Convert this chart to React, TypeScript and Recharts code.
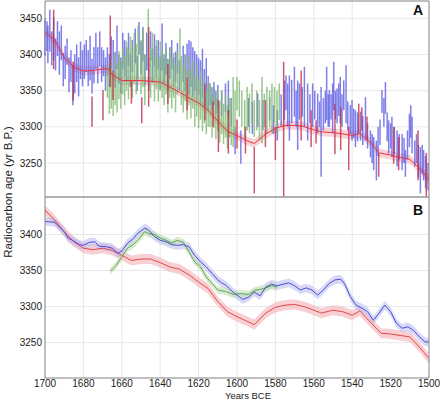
import {
  Area,
  CartesianGrid,
  ComposedChart,
  ErrorBar,
  Line,
  ReferenceLine,
  Scatter,
  XAxis,
  YAxis,
} from "recharts";

const yearTicks = [1700, 1680, 1660, 1640, 1620, 1600, 1580, 1560, 1540, 1520, 1500];
const ageTicks = [3250, 3300, 3350, 3400, 3450];

// [year BCE, low, high] of each measurement bar in panel A
const blueBars: [number, number, number][] = [
  [1700, 3398, 3450], [1699, 3405, 3446], [1698.5, 3388, 3440], [1697.5, 3404, 3462],
  [1696.5, 3385, 3432], [1695.5, 3392, 3452], [1694.5, 3378, 3422], [1693.5, 3398, 3446],
  [1692.5, 3372, 3432], [1691.5, 3392, 3440], [1690.5, 3356, 3402], [1689.5, 3366, 3412],
  [1688.5, 3386, 3422], [1687.5, 3348, 3396], [1686.5, 3362, 3406], [1685.5, 3330, 3386],
  [1684.5, 3346, 3400], [1683.5, 3362, 3414], [1682.5, 3342, 3396], [1681.5, 3366, 3418],
  [1680.5, 3356, 3406], [1679.5, 3366, 3414], [1678.5, 3376, 3420], [1677.5, 3356, 3406],
  [1676.5, 3364, 3426], [1675.5, 3346, 3394], [1674.5, 3360, 3410], [1673.5, 3380, 3430],
  [1672.5, 3360, 3410], [1671.5, 3384, 3432], [1670.5, 3362, 3410], [1669.5, 3370, 3406],
  [1668.5, 3350, 3396], [1667.5, 3370, 3410], [1666.5, 3356, 3400], [1665.5, 3380, 3425],
  [1664.5, 3376, 3420], [1663.5, 3354, 3404], [1662.5, 3380, 3440], [1661.5, 3360, 3400],
  [1660.5, 3346, 3396], [1659.5, 3380, 3430], [1658.5, 3370, 3420], [1657.5, 3362, 3410],
  [1656.5, 3384, 3430], [1655.5, 3355, 3400], [1654.5, 3376, 3420], [1653, 3388, 3436],
  [1652, 3350, 3398], [1651, 3400, 3445], [1650, 3372, 3418], [1649, 3390, 3438],
  [1648, 3356, 3400], [1647, 3378, 3430], [1646, 3350, 3395], [1645, 3392, 3432],
  [1644, 3362, 3408], [1643, 3384, 3428], [1642, 3368, 3412], [1641, 3380, 3420],
  [1640, 3352, 3398], [1639, 3378, 3443], [1638, 3360, 3400], [1637, 3372, 3416],
  [1636, 3350, 3394], [1635, 3366, 3410], [1634, 3380, 3420], [1633, 3356, 3396],
  [1632, 3362, 3404], [1631, 3374, 3416], [1630, 3350, 3392], [1628, 3362, 3412],
  [1627, 3350, 3400], [1626, 3370, 3415], [1625, 3345, 3420], [1624, 3355, 3418],
  [1623, 3342, 3410], [1622, 3350, 3405], [1621, 3338, 3400], [1620, 3345, 3395],
  [1619, 3330, 3392], [1618, 3340, 3408], [1617, 3325, 3380], [1616, 3330, 3395],
  [1615, 3322, 3370], [1614, 3330, 3360], [1613, 3322, 3355], [1612, 3330, 3362],
  [1611, 3318, 3350], [1610, 3325, 3358], [1608, 3315, 3350], [1606, 3320, 3360],
  [1604.5, 3314, 3364], [1603, 3300, 3340], [1601, 3262, 3300], [1598, 3249, 3295],
  [1594, 3300, 3340], [1592, 3290, 3335], [1589.2, 3300, 3346], [1586.5, 3295, 3337],
  [1583, 3309, 3341], [1581, 3290, 3330], [1579, 3281, 3323], [1577, 3300, 3345],
  [1575.3, 3309, 3364], [1574.5, 3323, 3371], [1573.6, 3300, 3360], [1572.7, 3281, 3371],
  [1571.5, 3305, 3365], [1570.1, 3314, 3383], [1569.2, 3300, 3350], [1568.4, 3268, 3364],
  [1567.5, 3310, 3360], [1566, 3314, 3355], [1564.9, 3300, 3383], [1563.2, 3281, 3360],
  [1562, 3305, 3345], [1560.6, 3300, 3360], [1559.5, 3310, 3350], [1558, 3291, 3346],
  [1557, 3300, 3335], [1556.2, 3231, 3355], [1555, 3295, 3340], [1554, 3305, 3350],
  [1553.3, 3309, 3383], [1552.5, 3300, 3345], [1551.9, 3300, 3351], [1551, 3310, 3345],
  [1550.2, 3291, 3360], [1549.6, 3323, 3390], [1548.7, 3310, 3350], [1547.9, 3305, 3353],
  [1547, 3315, 3360], [1546.2, 3305, 3369], [1545.3, 3300, 3345], [1544.4, 3323, 3364],
  [1543.2, 3305, 3385], [1542.3, 3295, 3335], [1541, 3290, 3330], [1540.1, 3281, 3337],
  [1539.2, 3285, 3325], [1538.3, 3272, 3323], [1537.2, 3280, 3320], [1535.7, 3281, 3321],
  [1534.5, 3275, 3315], [1533.1, 3281, 3341], [1532, 3270, 3305], [1530.5, 3258, 3295],
  [1529.6, 3250, 3290], [1528.8, 3240, 3286], [1527.4, 3226, 3281], [1526.5, 3260, 3300],
  [1525.5, 3275, 3310], [1524.5, 3319, 3351], [1523.5, 3300, 3340], [1522.7, 3318, 3362],
  [1521.8, 3280, 3320], [1521, 3263, 3309], [1520, 3270, 3305], [1519.3, 3258, 3314],
  [1518, 3262, 3300], [1516.6, 3245, 3295], [1515.5, 3255, 3290], [1514, 3240, 3290],
  [1513, 3250, 3285], [1512.3, 3231, 3268], [1511.2, 3255, 3295], [1510.2, 3272, 3318],
  [1509.5, 3285, 3330], [1508.8, 3263, 3314], [1507.4, 3245, 3281], [1506.5, 3250, 3290],
  [1505.5, 3230, 3275], [1504.5, 3208, 3272], [1503.5, 3235, 3275], [1502.8, 3226, 3268],
  [1501.8, 3215, 3260], [1500.5, 3212, 3250],
];

const greenBars: [number, number, number][] = [
  [1667.5, 3340, 3385], [1666.5, 3318, 3380], [1665.5, 3325, 3392], [1664.5, 3315, 3375],
  [1663.5, 3330, 3400], [1662.5, 3320, 3388], [1661.5, 3338, 3405], [1660.5, 3325, 3392],
  [1659.5, 3345, 3410], [1658.5, 3330, 3398], [1657.5, 3350, 3418], [1656.5, 3338, 3408],
  [1655.5, 3355, 3425], [1654.5, 3340, 3412], [1653.5, 3360, 3430], [1652.5, 3345, 3415],
  [1651.5, 3365, 3440], [1650, 3345, 3420], [1649, 3355, 3435], [1648, 3330, 3400],
  [1646.2, 3383, 3463], [1645, 3340, 3410], [1644, 3360, 3430], [1643, 3335, 3400],
  [1642, 3352, 3420], [1641, 3335, 3395], [1640, 3350, 3418], [1639, 3340, 3405],
  [1638, 3330, 3395], [1637, 3345, 3410], [1636, 3320, 3392], [1635, 3340, 3410],
  [1634, 3325, 3395], [1633, 3340, 3402], [1632, 3320, 3386], [1631, 3345, 3405],
  [1629.7, 3355, 3436], [1629, 3330, 3398], [1628, 3320, 3385], [1627, 3335, 3400],
  [1626, 3310, 3378], [1625, 3330, 3398], [1624, 3312, 3380], [1623, 3325, 3392],
  [1622, 3300, 3370], [1621, 3314, 3385], [1620, 3298, 3365], [1619, 3310, 3378],
  [1618, 3294, 3360], [1617, 3305, 3372], [1616, 3290, 3350], [1615, 3300, 3360],
  [1614, 3300, 3360], [1613, 3285, 3345], [1612, 3298, 3355], [1611, 3283, 3340],
  [1610, 3294, 3352], [1609, 3278, 3336], [1608, 3290, 3350], [1607, 3276, 3332],
  [1606, 3285, 3345], [1605, 3270, 3330], [1604, 3285, 3340], [1603, 3275, 3340],
  [1602, 3272, 3369], [1601, 3290, 3350], [1600, 3323, 3369], [1598.8, 3314, 3364],
  [1597.5, 3300, 3350], [1596, 3281, 3337], [1594.7, 3295, 3355], [1593.5, 3291, 3346],
  [1592.2, 3305, 3360], [1591, 3286, 3337], [1589.7, 3295, 3350], [1588.3, 3281, 3337],
  [1587, 3277, 3369], [1585.8, 3300, 3346], [1584.4, 3291, 3355], [1583, 3300, 3350],
  [1581.8, 3291, 3360], [1580.5, 3305, 3355], [1579.2, 3291, 3350], [1578, 3309, 3360],
];

const redBars: [number, number, number][] = [
  [1695.5, 3380, 3462], [1685.3, 3336, 3390], [1675.5, 3300, 3342], [1669.8, 3309, 3351],
  [1666, 3355, 3454], [1664.6, 3337, 3377], [1655, 3332, 3364], [1649.6, 3305, 3341],
  [1646, 3328, 3438], [1636, 3332, 3387], [1626, 3323, 3369], [1616.7, 3309, 3360],
  [1612.5, 3300, 3335], [1609.7, 3265, 3337], [1604.5, 3263, 3323], [1600, 3270, 3310],
  [1595.6, 3263, 3300], [1591, 3208, 3272], [1585.2, 3272, 3337], [1580, 3254, 3300],
  [1575.7, 3203, 3390], [1566.6, 3281, 3378], [1561.4, 3272, 3323], [1558.8, 3277, 3309],
  [1549, 3262, 3332], [1546, 3268, 3327], [1541.8, 3240, 3300], [1536.6, 3291, 3332],
  [1535, 3295, 3327], [1532.3, 3281, 3314], [1526.2, 3231, 3263], [1518.4, 3249, 3300],
  [1515.8, 3240, 3286], [1505.7, 3226, 3295], [1501.4, 3203, 3264],
];

// [year BCE, age] of the curves
const curveA: [number, number][] = [
  [1700, 3431], [1695, 3420], [1690, 3396], [1685, 3383], [1680, 3377], [1675, 3378],
  [1670, 3380], [1667, 3380], [1665, 3372], [1660, 3364], [1655, 3364], [1650, 3364],
  [1645, 3363], [1640, 3362], [1635, 3355], [1630, 3348], [1625, 3340], [1620, 3333],
  [1615, 3323], [1610, 3308], [1605, 3294], [1600, 3288], [1595, 3281], [1591, 3277],
  [1585, 3290], [1580, 3298], [1575, 3302], [1570, 3302], [1566, 3301], [1560, 3296],
  [1556, 3293], [1550, 3292], [1544, 3290], [1540, 3288], [1536, 3291], [1530, 3277],
  [1526, 3264], [1520, 3261], [1516, 3258], [1510, 3255], [1505, 3243], [1500, 3227],
];

const redB: [number, number][] = [
  [1700, 3434], [1695, 3420], [1690, 3404], [1685, 3390], [1680, 3381], [1675, 3379],
  [1670, 3381], [1665, 3378], [1660, 3371], [1655, 3364], [1650, 3366], [1645, 3366],
  [1640, 3361], [1635, 3355], [1630, 3352], [1625, 3344], [1620, 3334], [1615, 3325],
  [1610, 3307], [1605, 3293], [1600, 3286], [1595, 3280], [1591, 3275], [1585, 3291],
  [1580, 3299], [1575, 3302], [1570, 3303], [1565, 3300], [1560, 3295], [1556, 3291],
  [1550, 3295], [1545, 3293], [1540, 3288], [1536, 3294], [1530, 3277], [1525, 3263],
  [1520, 3262], [1515, 3260], [1510, 3258], [1505, 3244], [1500, 3228],
];

const blueB: [number, number][] = [
  [1700, 3418], [1695, 3417], [1690, 3404], [1688, 3395], [1685, 3391], [1682, 3386],
  [1680, 3385], [1677, 3389], [1674, 3390], [1672, 3384], [1668, 3383], [1665, 3381],
  [1662, 3374], [1660, 3377], [1657, 3388], [1654, 3394], [1652, 3401], [1648, 3409],
  [1646, 3406], [1643, 3397], [1640, 3392], [1637, 3390], [1634, 3386], [1631, 3385],
  [1628, 3386], [1625, 3383], [1622, 3371], [1619, 3362], [1616, 3355], [1613, 3346],
  [1610, 3337], [1608, 3333], [1606, 3330], [1604, 3325], [1602, 3320], [1600, 3316],
  [1597, 3310], [1594, 3313], [1591, 3320], [1588, 3315], [1585, 3327], [1582, 3331],
  [1579, 3329], [1576, 3331], [1573, 3333], [1570, 3329], [1567, 3323], [1564, 3326],
  [1561, 3323], [1558, 3316], [1555, 3323], [1552, 3332], [1549, 3337], [1546, 3338],
  [1544, 3332], [1541, 3314], [1538, 3302], [1535, 3298], [1532, 3293], [1529, 3281],
  [1526, 3291], [1523, 3302], [1520, 3293], [1517, 3277], [1514, 3270], [1511, 3272],
  [1508, 3267], [1505, 3258], [1502, 3251], [1500, 3251],
];

const greenB: [number, number][] = [
  [1666, 3349], [1663, 3357], [1660, 3369], [1657, 3381], [1654, 3386], [1651, 3394],
  [1648, 3404], [1646, 3401], [1643, 3400], [1640, 3395], [1637, 3392], [1634, 3388],
  [1631, 3392], [1628, 3389], [1625, 3376], [1622, 3362], [1619, 3355], [1616, 3341],
  [1613, 3332], [1610, 3323], [1606, 3321], [1602, 3317], [1598, 3318], [1594, 3317],
  [1590, 3323], [1586, 3325], [1582, 3329], [1579, 3327],
];

// half-widths of the uncertainty bands
const bandA = 6;
const bandRedB = 7;
const bandBlueB = 6;
const bandGreenB = 5;

const toBars = (rows: [number, number, number][]) =>
  rows.map(([year, lo, hi]) => ({ year, mid: (lo + hi) / 2, err: (hi - lo) / 2 }));

const toCurve = (rows: [number, number][], half: number) =>
  rows.map(([year, v]) => ({ year, v, band: [v - half, v + half] }));

const noDot = () => <g />;
const frame = "#8c8c8c";
const tickStyle = { fontSize: 10, fill: "#222" };

function BarSeries({ rows, color }: { rows: [number, number, number][]; color: string }) {
  return (
    <Scatter data={toBars(rows)} dataKey="mid" shape={noDot} isAnimationActive={false}>
      <ErrorBar dataKey="err" direction="y" width={0} stroke={color} strokeWidth={1.5} isAnimationActive={false} />
    </Scatter>
  );
}

export default function App() {
  const aData = toCurve(curveA, bandA);
  const rB = toCurve(redB, bandRedB);
  const bB = toCurve(blueB, bandBlueB);
  const gB = toCurve(greenB, bandGreenB);
  return (
    <div
      style={{
        position: "absolute",
        left: 0,
        top: 0,
        width: 440,
        height: 403,
        background: "#fff",
        fontFamily: "'Liberation Sans', Arial, sans-serif",
      }}
    >
      <div style={{ position: "absolute", left: 0, top: 0 }}>
        <ComposedChart width={440} height={198} margin={{ top: 1, right: 11, bottom: 1, left: 0 }}>
          <CartesianGrid stroke="#e8e8e8" />
          <XAxis dataKey="year" type="number" domain={[1500, 1700]} reversed ticks={yearTicks} hide allowDataOverflow />
          <YAxis
            type="number"
            domain={[3203, 3474]}
            ticks={ageTicks}
            width={45}
            tickLine={false}
            tickSize={0}
            tickMargin={3}
            axisLine={{ stroke: frame }}
            tick={tickStyle}
            allowDataOverflow
          />
          {BarSeries({ rows: blueBars, color: "rgba(84,84,228,0.75)" })}
          {BarSeries({ rows: greenBars, color: "rgba(128,184,112,0.8)" })}
          {BarSeries({ rows: redBars, color: "rgba(190,40,70,0.78)" })}
          <Area data={aData} dataKey="band" type="linear" stroke="none" fill="#f5a3b0" fillOpacity={0.5} isAnimationActive={false} />
          <Line data={aData} dataKey="v" type="linear" stroke="#e8333d" strokeWidth={1} dot={false} isAnimationActive={false} />
          <ReferenceLine y={3474} stroke={frame} />
          <ReferenceLine x={1500} stroke={frame} />
          <ReferenceLine y={3203} stroke={frame} />
        </ComposedChart>
      </div>
      <div style={{ position: "absolute", left: 0, top: 196 }}>
        <ComposedChart width={440} height={207} margin={{ top: 1, right: 11, bottom: 0, left: 0 }}>
          <CartesianGrid stroke="#e8e8e8" />
          <XAxis
            dataKey="year"
            type="number"
            domain={[1500, 1700]}
            reversed
            ticks={yearTicks}
            height={25}
            tickLine={false}
            tickSize={0}
            tickMargin={2}
            axisLine={{ stroke: frame }}
            tick={tickStyle}
            allowDataOverflow
          />
          <YAxis
            type="number"
            domain={[3201, 3452]}
            ticks={ageTicks.slice(0, 4)}
            width={45}
            tickLine={false}
            tickSize={0}
            tickMargin={3}
            axisLine={{ stroke: frame }}
            tick={tickStyle}
            allowDataOverflow
          />
          <Area data={rB} dataKey="band" type="linear" stroke="none" fill="#f4b0b8" fillOpacity={0.6} isAnimationActive={false} />
          <Area data={bB} dataKey="band" type="linear" stroke="none" fill="#b8b8f2" fillOpacity={0.55} isAnimationActive={false} />
          <Area data={gB} dataKey="band" type="linear" stroke="none" fill="#bfe0b4" fillOpacity={0.6} isAnimationActive={false} />
          <Line data={rB} dataKey="v" type="linear" stroke="#e04848" strokeWidth={1} dot={false} isAnimationActive={false} />
          <Line data={gB} dataKey="v" type="linear" stroke="#5ea454" strokeWidth={1} dot={false} isAnimationActive={false} />
          <Line data={bB} dataKey="v" type="linear" stroke="#4c4cd6" strokeWidth={1} dot={false} isAnimationActive={false} />
          <ReferenceLine y={3452} stroke={frame} />
          <ReferenceLine x={1500} stroke={frame} />
        </ComposedChart>
      </div>
      <div
        style={{
          position: "absolute",
          left: 8,
          top: 192,
          transform: "translate(-50%, -50%) rotate(-90deg)",
          whiteSpace: "nowrap",
          fontSize: 11.5,
          color: "#222",
        }}
      >
        Radiocarbon age (yr B.P.)
      </div>
      <div style={{ position: "absolute", left: 248, top: 391, transform: "translateX(-50%)", fontSize: 9.5, lineHeight: "10px", color: "#222", whiteSpace: "nowrap" }}>
        Years BCE
      </div>
      <div style={{ position: "absolute", left: 413, top: 3, fontSize: 14, fontWeight: "bold", lineHeight: "14px", color: "#111" }}>A</div>
      <div style={{ position: "absolute", left: 413, top: 203, fontSize: 14, fontWeight: "bold", lineHeight: "14px", color: "#111" }}>B</div>
    </div>
  );
}
